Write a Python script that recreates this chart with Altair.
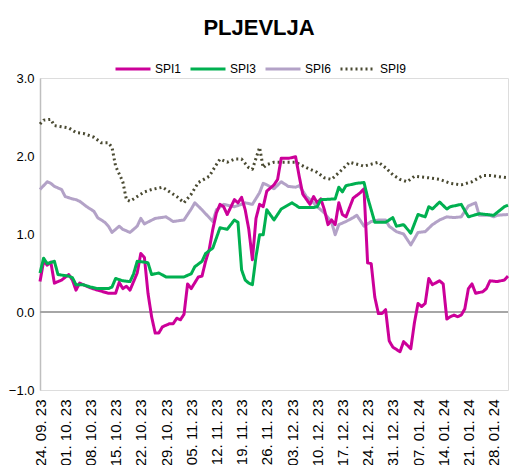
import json
import altair as alt
import pandas as pd

series_names = ["SPI1", "SPI3", "SPI6", "SPI9"]
series_colors = ["#cc0099", "#00b050", "#b3a2c7", "#4a4a32"]

tick_labels = ["24. 09. 23", "01. 10. 23", "08. 10. 23", "15. 10. 23", "22. 10. 23",
               "29. 10. 23", "05. 11. 23", "12. 11. 23", "19. 11. 23", "26. 11. 23",
               "03. 12. 23", "10. 12. 23", "17. 12. 23", "24. 12. 23", "31. 12. 23",
               "07. 01. 24", "14. 01. 24", "21. 01. 24", "28. 01. 24"]
tick_days = [0, 7, 14, 21, 28, 35, 42, 49, 56, 63, 70, 77, 84, 91, 98, 105, 112, 119, 126]

# day offsets from 24.09.2023
spi1_days = [0, 1, 2, 3, 4, 6, 8, 9, 10, 11, 14, 16, 19, 21, 22, 23, 24, 25, 27, 28, 29, 30, 31, 32, 33, 34,
             36, 37, 38, 39, 40, 41, 42, 44, 45, 46, 47, 48, 49, 50, 51, 52, 54, 55, 56, 57, 58, 59, 60, 61,
             62, 63, 65, 66, 67, 69, 71, 72, 73, 75, 76, 77, 78, 79, 80, 81, 82, 83, 84, 85, 87, 89, 90, 91,
             92, 93, 94, 95, 96, 97, 98, 100, 101, 103, 104, 105, 106, 107, 108, 109, 111, 112, 113, 114,
             115, 116, 117, 118, 119, 120, 121, 123, 124, 125, 127, 129, 130]
spi1_vals = [0.39, 0.65, 0.60, 0.64, 0.37, 0.41, 0.48, 0.41, 0.28, 0.37, 0.31, 0.28, 0.24, 0.24, 0.38, 0.30,
             0.33, 0.28, 0.50, 0.75, 0.70, 0.24, -0.06, -0.27, -0.27, -0.19, -0.15, -0.15, -0.08, -0.10, -0.03,
             0.36, 0.30, 0.45, 0.46, 0.65, 0.80, 1.06, 1.27, 1.38, 1.35, 1.25, 1.44, 1.40, 1.47, 1.31, 1.06,
             0.67, 1.20, 1.38, 1.35, 1.55, 1.63, 1.70, 1.97, 1.97, 1.99, 1.74, 1.51, 1.38, 1.48, 1.40, 1.45,
             1.31, 1.12, 1.18, 1.12, 1.40, 1.25, 1.22, 1.46, 1.53, 1.58, 0.63, 0.62, 0.19, -0.02, -0.02, 0.03,
             -0.37, -0.45, -0.51, -0.38, -0.47, -0.14, 0.11, 0.07, 0.11, 0.43, 0.35, 0.40, 0.36, -0.09, -0.06,
             -0.04, -0.06, -0.04, 0.04, 0.30, 0.36, 0.24, 0.26, 0.30, 0.40, 0.39, 0.41, 0.46]

spi3_days = [0, 1, 2, 4, 5, 8, 9, 10, 12, 14, 16, 19, 20, 21, 23, 25, 26, 27, 29, 30, 31, 33, 35, 40, 42,
             43, 45, 46, 48, 49, 50, 52, 54, 55, 56, 57, 58, 59, 60, 61, 62, 63, 65, 67, 70, 72, 76, 77, 78,
             82, 83, 84, 85, 88, 90, 91, 93, 96, 98, 99, 101, 103, 105, 107, 108, 109, 111, 113, 114, 117,
             119, 122, 126, 129, 130]
spi3_vals = [0.50, 0.69, 0.62, 0.65, 0.48, 0.46, 0.44, 0.35, 0.35, 0.32, 0.30, 0.30, 0.32, 0.43, 0.40,
             0.39, 0.49, 0.65, 0.64, 0.63, 0.48, 0.50, 0.45, 0.45, 0.49, 0.58, 0.65, 0.75, 0.82, 0.95,
             1.08, 1.06, 1.18, 1.15, 0.54, 0.41, 0.37, 0.35, 0.71, 0.99, 0.99, 1.31, 1.18, 1.32, 1.40,
             1.34, 1.34, 1.35, 1.44, 1.45, 1.60, 1.54, 1.62, 1.65, 1.66, 1.47, 1.15, 1.15, 1.21, 1.10,
             1.12, 1.01, 1.25, 1.22, 1.35, 1.32, 1.41, 1.32, 1.35, 1.38, 1.22, 1.26, 1.24, 1.35, 1.37]

spi6_days = [0, 2, 3, 4, 6, 7, 9, 10, 11, 13, 15, 16, 18, 19, 20, 22, 23, 25, 27, 28, 29, 32, 35, 37, 40,
             42, 43, 45, 48, 49, 51, 54, 56, 57, 59, 61, 62, 63, 65, 67, 69, 71, 72, 74, 76, 77, 79, 81, 82,
             83, 85, 87, 88, 90, 92, 94, 96, 97, 99, 101, 103, 105, 107, 109, 111, 113, 115, 117, 119, 121,
             122, 125, 126, 127, 130]
spi6_vals = [1.57, 1.67, 1.65, 1.61, 1.57, 1.48, 1.45, 1.44, 1.42, 1.35, 1.29, 1.21, 1.15, 1.10, 1.02,
             1.10, 1.06, 1.02, 1.10, 1.20, 1.13, 1.20, 1.22, 1.16, 1.18, 1.32, 1.40, 1.31, 1.16, 1.31,
             1.38, 1.35, 1.38, 1.40, 1.38, 1.53, 1.65, 1.63, 1.58, 1.67, 1.61, 1.60, 1.62, 1.48, 1.40,
             1.35, 1.27, 1.15, 0.99, 1.12, 1.16, 1.21, 1.24, 1.10, 1.16, 1.18, 1.18, 1.10, 1.03, 1.00,
             0.86, 1.02, 1.03, 1.12, 1.18, 1.22, 1.21, 1.22, 1.36, 1.40, 1.24, 1.24, 1.22, 1.24, 1.25]

spi9_days = [0, 1, 3, 4, 8, 10, 12, 15, 17, 19, 20, 21, 23, 24, 25, 27, 29, 31, 34, 35, 38, 40, 42, 44, 47,
             49, 50, 52, 54, 56, 58, 59, 61, 62, 63, 65, 67, 71, 74, 77, 79, 81, 84, 86, 90, 94, 96, 98, 100,
             102, 104, 108, 111, 114, 117, 120, 123, 125, 130]
spi9_vals = [2.41, 2.46, 2.47, 2.39, 2.36, 2.30, 2.29, 2.24, 2.17, 2.17, 2.11, 1.87, 1.67, 1.44, 1.42,
             1.48, 1.54, 1.57, 1.60, 1.57, 1.48, 1.40, 1.51, 1.66, 1.74, 1.89, 1.96, 1.92, 1.96, 1.96,
             1.85, 1.83, 2.11, 1.85, 1.89, 1.92, 1.92, 1.92, 1.85, 1.79, 1.72, 1.70, 1.83, 1.92, 1.87,
             1.92, 1.85, 1.76, 1.70, 1.67, 1.74, 1.72, 1.70, 1.65, 1.63, 1.67, 1.75, 1.75, 1.72]

rows = []
draw_order = [("SPI9", spi9_days, spi9_vals), ("SPI6", spi6_days, spi6_vals),
              ("SPI1", spi1_days, spi1_vals), ("SPI3", spi3_days, spi3_vals)]
for name, ds, vs in draw_order:
    assert len(ds) == len(vs), name
    for d, v in zip(ds, vs):
        rows.append({"series": name, "day": d, "value": v})
df = pd.DataFrame(rows)

label_expr = json.dumps(tick_labels) + "[round(datum.value / 7)]"
FONT = "Liberation Sans"

legend_kw = dict(title=None, orient="none", direction="horizontal",
                 legendX=74, legendY=-28, symbolType="stroke",
                 symbolSize=1225, symbolStrokeWidth=3,
                 labelFontSize=12, labelFont=FONT, labelColor="#000000",
                 columnPadding=2, labelOffset=3)

lines = alt.Chart(df).mark_line(strokeWidth=3, strokeJoin="round").encode(
    x=alt.X("day:Q", scale=alt.Scale(domain=[0, 130], nice=False, zero=False),
            axis=alt.Axis(values=tick_days, labelExpr=label_expr, labelAngle=270,
                          domain=False, ticks=False, grid=False, labelPadding=9,
                          labelFontSize=15, labelColor="#000000", title=None,
                          labelFont=FONT, labelOverlap=False)),
    y=alt.Y("value:Q", scale=alt.Scale(domain=[-1, 3], nice=False),
            axis=alt.Axis(values=[-1, 0, 1, 2, 3], format=".1f", domain=True,
                          domainColor="#bfbfbf", domainWidth=1.5, ticks=False, grid=False,
                          labelPadding=6, labelFontSize=13, labelColor="#000000",
                          title=None, labelFont=FONT)),
    color=alt.Color("series:N", scale=alt.Scale(domain=series_names, range=series_colors),
                    legend=alt.Legend(**legend_kw)),
    strokeDash=alt.StrokeDash("series:N",
                              scale=alt.Scale(domain=series_names,
                                              range=[[1, 0], [1, 0], [1, 0], [2, 3]]),
                              legend=alt.Legend(**legend_kw)),
    detail="series:N",
)

zero_rule = alt.Chart(df).mark_rule(color="#a6a6a6", strokeWidth=1.5).encode(y=alt.datum(0))

chart = alt.layer(zero_rule, lines).properties(
    width=468, height=312,
    title=alt.Title("PLJEVLJA", font=FONT, fontSize=22, fontWeight="bold", color="#000000",
                    anchor="middle", offset=10, dx=-15),
    autosize=alt.AutoSizeParams(type="none"),
    padding={"left": 32, "top": 70, "right": 15, "bottom": 75},
).configure_view(stroke=None).configure(background="white")

chart.save("out.html", embed_options={"renderer": "svg", "actions": False})
